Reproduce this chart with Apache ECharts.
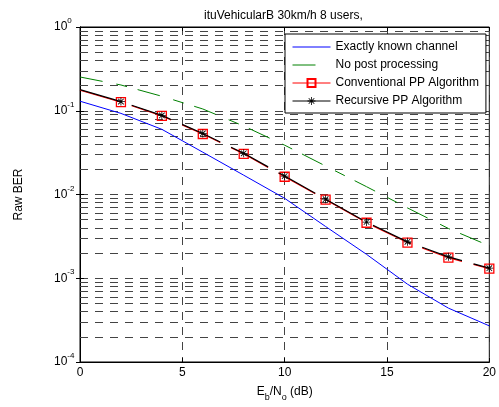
<!DOCTYPE html>
<html>
<head>
<meta charset="utf-8">
<script src="https://cdn.jsdelivr.net/npm/echarts@6/dist/echarts.min.js"></script>
<style>
html,body{margin:0;padding:0;background:#fff;}
#c{width:499px;height:407px;}
</style>
</head>
<body>
<div id="c"></div>
<script>
// ---- data ----
var ebno = [0, 2, 4, 6, 8, 10, 12, 14, 16, 18, 20];
var exactBER = [0.130, 0.093, 0.060, 0.032, 0.0170, 0.0090, 0.00415, 0.00193, 0.00085, 0.00044, 0.00027];
var noPPBER = [0.253, 0.203, 0.149, 0.105, 0.0657, 0.0388, 0.0219, 0.0124, 0.00692, 0.00393, 0.00244];
var convBER = [0.176, 0.1265, 0.0868, 0.0528, 0.0306, 0.0163, 0.0087, 0.00460, 0.00267, 0.00176, 0.00130];
var recurBER = [0.179, 0.1286, 0.0880, 0.0536, 0.0310, 0.0166, 0.0088, 0.00469, 0.00272, 0.00180, 0.00132];
var xTicks = [0, 5, 10, 15, 20];
var yDecades = [1e-4, 1e-3, 1e-2, 1e-1, 1];
var yExponents = ['-4', '-3', '-2', '-1', '0'];
var minorMantissas = [2, 3, 4, 5, 6, 7, 8, 9];
var minorDecades = [1e-4, 1e-3, 1e-2, 1e-1];
var seriesNames = ['Exactly known channel', 'No post processing', 'Conventional PP Algorithm', 'Recursive PP Algorithm'];
var titleText = 'ituVehicularB 30km/h 8 users,';

// ---- build ----
function pts(vals, markerFromSecond) {
  return ebno.map(function (x, i) {
    var d = {value: [x, vals[i]]};
    if (markerFromSecond && i === 0) d.symbol = 'none';
    return d;
  });
}
var xMin = xTicks[0], xMax = xTicks[xTicks.length - 1];
var minorLines = [];
minorDecades.forEach(function (d) {
  minorMantissas.forEach(function (m) {
    var v = +(m * d).toPrecision(3);
    minorLines.push({coords: [[xMin, v], [xMax, v]]});
  });
});
var FONT = 'Liberation Sans, Arial, sans-serif';
var FS = 12;
var gridDash = [8, 7];
var gridColor = '#444';
var starPath = 'path://M-10 -1L10 -1L10 1L-10 1Z M-1 -10L1 -10L1 10L-1 10Z M-6.3 -7.7L7.7 6.3L6.3 7.7L-7.7 -6.3Z M6.3 -7.7L7.7 -6.3L-6.3 7.7L-7.7 6.3Z';

var chart = echarts.init(document.getElementById('c'), null, {renderer: 'canvas'});
chart.setOption({
  animation: false,
  backgroundColor: '#fff',
  textStyle: {fontFamily: FONT},
  title: {
    text: titleText,
    left: 199, top: 5,
    textStyle: {fontSize: FS, fontWeight: 'normal', color: '#000', fontFamily: FONT}
  },
  grid: {left: 80, right: 8, top: 27, bottom: 41, show: true, borderColor: '#000', borderWidth: 1, backgroundColor: 'transparent'},
  legend: {
    left: 285, top: 34, orient: 'vertical',
    padding: [7, 7, 6, 7],
    itemWidth: 38, itemHeight: 10, itemGap: 6,
    backgroundColor: '#fff', borderColor: '#000', borderWidth: 1,
    textStyle: {fontSize: FS, color: '#000', fontFamily: FONT},
    lineStyle: {width: 1},
    data: [
      {name: seriesNames[0], itemStyle: {opacity: 0}},
      {name: seriesNames[1], itemStyle: {opacity: 0}, lineStyle: {width: 1, type: [23, 100]}},
      {name: seriesNames[2]},
      {name: seriesNames[3]}
    ]
  },
  xAxis: [{
    type: 'value', min: xMin, max: xMax, interval: 5,
    name: '{n|E}{s|b}{n|/N}{s|o}{n| (dB)}',
    nameLocation: 'middle', nameGap: 20,
    nameTextStyle: {rich: {
      n: {fontSize: FS, lineHeight: 20, color: '#000', fontFamily: FONT},
      s: {fontSize: 9, lineHeight: 12, verticalAlign: 'bottom', color: '#000', fontFamily: FONT}
    }},
    axisLine: {lineStyle: {color: '#000', width: 1}},
    axisTick: {inside: true, length: 4, lineStyle: {color: '#000'}},
    axisLabel: {fontSize: FS, color: '#000', margin: 5, fontFamily: FONT},
    splitLine: {show: true, lineStyle: {type: gridDash, color: gridColor, width: 1}}
  }, {
    type: 'value', min: xMin, max: xMax, interval: 5, position: 'top',
    axisLine: {lineStyle: {color: '#000', width: 1}},
    axisTick: {inside: true, length: 4, lineStyle: {color: '#000'}},
    axisLabel: {show: false}, splitLine: {show: false}
  }],
  yAxis: [{
    type: 'log', logBase: 10, min: 1e-4, max: 1,
    name: 'Raw BER', nameLocation: 'middle', nameGap: 55, nameRotate: 90,
    nameTextStyle: {fontSize: FS, color: '#000', fontFamily: FONT},
    axisLine: {lineStyle: {color: '#000', width: 1}},
    axisTick: {inside: true, length: 4, lineStyle: {color: '#000'}},
    axisLabel: {
      align: 'left', margin: 26, color: '#000',
      formatter: function (v) {
        var i = yDecades.findIndex(function (d) { return Math.abs(Math.log10(d) - Math.log10(v)) < 1e-6; });
        return i < 0 ? '' : '{b|10}{e|' + yExponents[i] + '}';
      },
      rich: {
        b: {fontSize: FS, lineHeight: 20, color: '#000', fontFamily: FONT},
        e: {fontSize: 8, lineHeight: 8, verticalAlign: 'top', color: '#000', fontFamily: FONT}
      }
    },
    splitLine: {show: true, lineStyle: {type: gridDash, color: gridColor, width: 1}}
  }, {
    type: 'log', logBase: 10, min: 1e-4, max: 1, position: 'right',
    axisLine: {lineStyle: {color: '#000', width: 1}},
    axisTick: {inside: true, length: 4, lineStyle: {color: '#000'}},
    axisLabel: {show: false}, splitLine: {show: false}
  }],
  series: [
    {
      type: 'lines', name: '__grid', coordinateSystem: 'cartesian2d', z: 1, silent: true,
      xAxisIndex: 0, yAxisIndex: 0,
      lineStyle: {type: gridDash, color: gridColor, width: 1, opacity: 1},
      data: minorLines
    },
    {
      type: 'line', name: seriesNames[0], data: pts(exactBER, false), z: 3,
      symbol: 'none', color: '#0000ff',
      lineStyle: {color: '#0000ff', width: 1}
    },
    {
      type: 'line', name: seriesNames[1], data: pts(noPPBER, false), z: 3,
      symbol: 'none', color: '#008000',
      lineStyle: {color: '#008000', width: 1, type: [23, 14, 11, 11]}
    },
    {
      type: 'line', name: seriesNames[2], data: pts(convBER, true), z: 4,
      symbol: 'rect', symbolSize: 9, color: '#ff0000',
      itemStyle: {color: 'rgba(0,0,0,0)', borderColor: '#ff0000', borderWidth: 1.3},
      lineStyle: {color: '#ff0000', width: 1.2, type: [42, 12]}
    },
    {
      type: 'line', name: seriesNames[3], data: pts(recurBER, true), z: 5,
      symbol: starPath, symbolSize: 8, color: '#000',
      itemStyle: {color: '#000'},
      lineStyle: {color: '#000', width: 1.2, type: [42, 12]}
    }
  ]
});
</script>
</body>
</html>
